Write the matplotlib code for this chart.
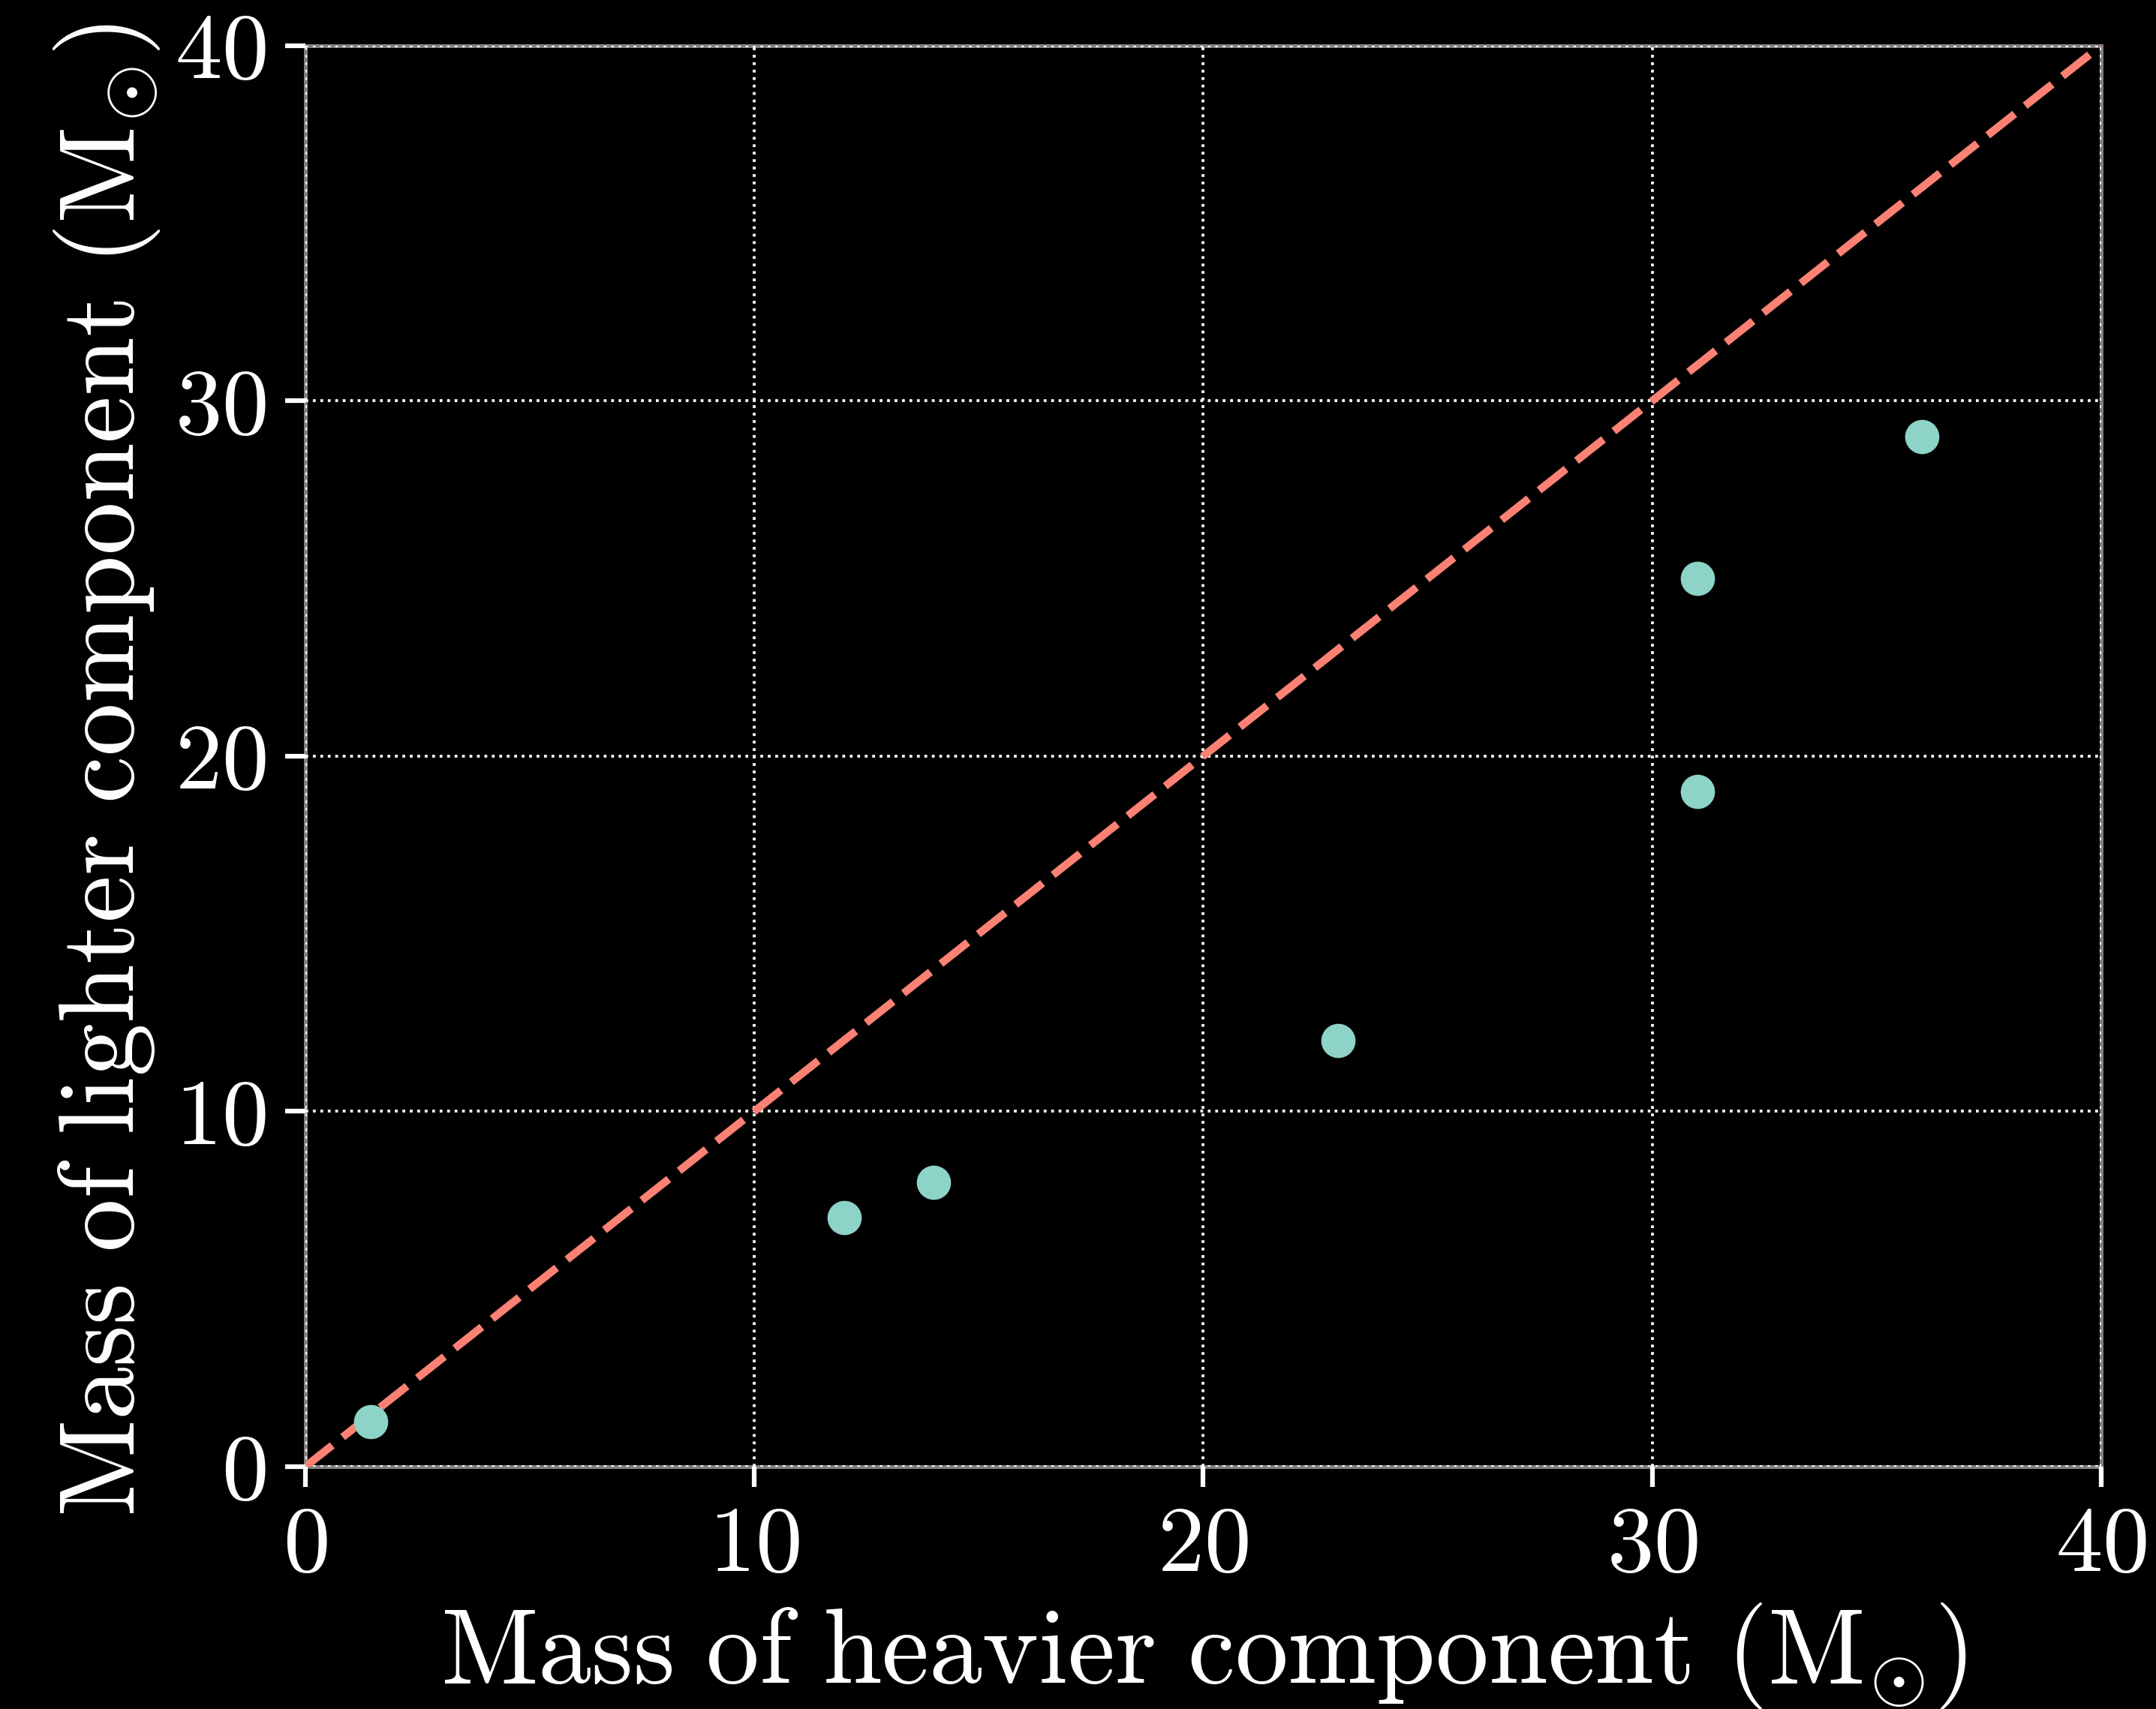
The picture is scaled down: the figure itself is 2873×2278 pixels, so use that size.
import numpy as np
import matplotlib
matplotlib.use("Agg")
import matplotlib.pyplot as plt

plt.style.use("dark_background")
plt.rcParams["font.family"] = "serif"
plt.rcParams["font.serif"] = ["cmr10"]
plt.rcParams["mathtext.fontset"] = "cm"
plt.rcParams["axes.formatter.use_mathtext"] = True

# masses of the binary components (solar masses)
m_heavy = [1.46, 12, 14, 23, 31, 31, 36]
m_light = [1.27, 7, 8, 12, 19, 25, 29]
ticks = [0, 10, 20, 30, 40]

fig = plt.figure(figsize=(2873/300, 2278/300), dpi=300)
ax = fig.add_axes([0.1416, 0.1418, 0.833, 0.8316])

ax.plot([0, 40], [0, 40], color="#fa8174", lw=2.5, dashes=(4.4, 1.7), zorder=2)
ax.scatter(m_heavy, m_light, s=120, color="#8dd3c7", zorder=3, linewidths=0)

ax.set_xlim(0, 40)
ax.set_ylim(0, 40)
ax.set_xticks(ticks)
ax.set_yticks(ticks)
ax.grid(True, color="white", linestyle=":", lw=0.9, zorder=1.5)
for sp in ax.spines.values():
    sp.set_color("gray")
    sp.set_linewidth(1.2)
    sp.set_zorder(0.5)
ax.tick_params(length=6.5, width=1.5, color="white", labelsize=30, pad=6)

ax.set_xlabel(r"$\mathrm{Mass\ of\ heavier\ component\ (M_{{\odot}})}$", fontsize=34, labelpad=4)
ax.set_ylabel(r"$\mathrm{Mass\ of\ lighter\ component\ (M_{{\odot}})}$", fontsize=34, labelpad=4)
ax.yaxis.label.set_y(0.49)

fig.savefig("out.png", dpi=300, facecolor="black")
